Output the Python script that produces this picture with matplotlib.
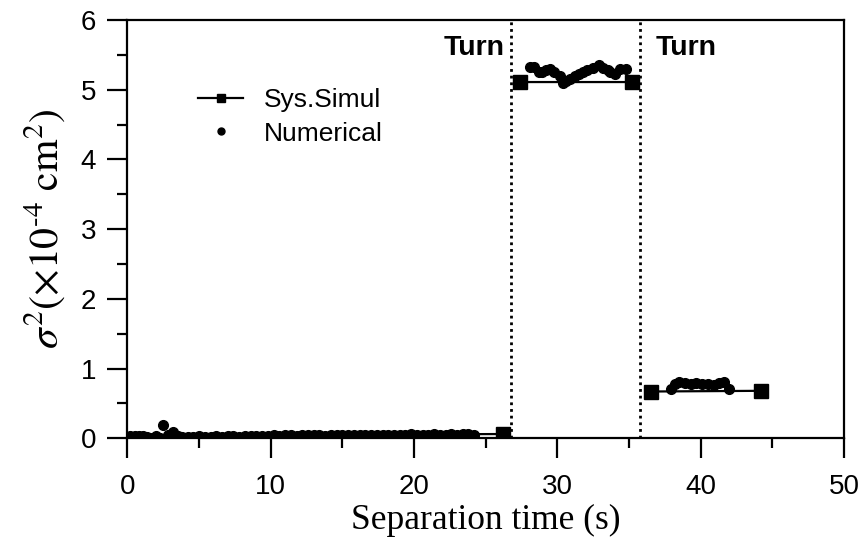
import matplotlib
matplotlib.use("Agg")
import matplotlib.pyplot as plt
import numpy as np
from matplotlib.lines import Line2D

plt.rcParams['font.family'] = ['Liberation Sans', 'DejaVu Sans']
plt.rcParams['mathtext.fontset'] = 'stix'

# Sys.Simul (three separate segments, NaN breaks)
sim_x = [0.0, 26.2, np.nan, 27.4, 35.2, np.nan, 36.5, 44.2]
sim_y = [0.04, 0.06, np.nan, 5.11, 5.11, np.nan, 0.67, 0.68]
sim_marker_idx = [1, 3, 4, 6, 7]

# Numerical
num_x = [0.2, 0.5, 0.8, 1.1, 1.4, 1.7, 2.0, 2.3, 2.5, 2.8, 3.2, 3.5, 3.8,
         4.2, 4.6, 5.0, 5.4, 5.8, 6.2, 6.6, 7.0, 7.4, 7.8, 8.2, 8.6, 9.0,
         9.4, 9.8, 10.2, 10.6, 11.0, 11.4, 11.8, 12.2, 12.6, 13.0, 13.4,
         13.8, 14.2, 14.6, 15.0, 15.4, 15.8, 16.2, 16.6, 17.0, 17.4, 17.8,
         18.2, 18.6, 19.0, 19.4, 19.8, 20.2, 20.6, 21.0, 21.4, 21.8, 22.2,
         22.6, 23.0, 23.4, 23.8, 24.2,
         28.1, 28.4, 28.7, 28.9, 29.2, 29.5, 29.8, 30.2, 30.4, 30.6, 30.9,
         31.2, 31.5, 31.8, 32.1, 32.5, 32.9, 33.2, 33.5, 33.7, 34.0, 34.4,
         34.8,
         37.9, 38.2, 38.5, 38.9, 39.3, 39.7, 40.1, 40.5, 40.9, 41.3, 41.6,
         42.0]
num_y = [0.03, 0.03, 0.03, 0.03, 0.02, 0.00, 0.03, 0.00, 0.19, 0.04, 0.09,
         0.03, 0.02,
         0.02, 0.02, 0.03, 0.02, 0.02, 0.03, 0.02, 0.03, 0.03, 0.02, 0.03,
         0.03, 0.03, 0.03, 0.03, 0.04, 0.03, 0.04, 0.04, 0.03, 0.04, 0.04,
         0.04, 0.04, 0.03, 0.04, 0.04, 0.04, 0.04, 0.05, 0.04, 0.04, 0.05,
         0.05, 0.04, 0.05, 0.05, 0.05, 0.05, 0.06, 0.05, 0.05, 0.05, 0.06,
         0.05, 0.05, 0.06, 0.05, 0.06, 0.06, 0.05,
         5.32, 5.33, 5.26, 5.25, 5.28, 5.30, 5.26, 5.20, 5.09, 5.12, 5.16,
         5.20, 5.23, 5.26, 5.28, 5.31, 5.35, 5.31, 5.28, 5.25, 5.23, 5.30,
         5.30,
         0.70, 0.78, 0.80, 0.79, 0.78, 0.79, 0.78, 0.78, 0.77, 0.79, 0.80,
         0.70]

turn_x = [26.8, 35.8]
turn_label_x = [24.2, 39.0]

fig = plt.figure(figsize=(8.63, 5.41), dpi=100)
ax = fig.add_axes([0.1476, 0.190, 0.8304, 0.773])

ax.plot(sim_x, sim_y, color='black', lw=1.6, marker='s', markersize=9.5,
        markevery=sim_marker_idx, zorder=3)
ax.plot(num_x, num_y, linestyle='none', marker='o', color='black',
        markersize=7, zorder=4)

for tx in turn_x:
    ax.axvline(tx, color='black', linestyle=(0, (1, 1.4)), lw=2.0, zorder=2)
for lx in turn_label_x:
    ax.text(lx, 5.6, 'Turn', ha='center', va='center', fontsize=20.5,
            fontweight='bold')

ax.set_xlim(0, 50)
ax.set_ylim(0, 6)
ax.set_xticks([0, 10, 20, 30, 40, 50])
ax.set_xticks([5, 15, 25, 35, 45], minor=True)
ax.set_yticks([0, 1, 2, 3, 4, 5, 6])
ax.set_yticks([0.5, 1.5, 2.5, 3.5, 4.5, 5.5], minor=True)
ax.tick_params(which='major', direction='out', length=14.5, width=1.6,
               labelsize=20, top=False, right=False)
ax.tick_params(axis='x', which='major', pad=11)
ax.tick_params(axis='y', which='major', pad=8)
ax.tick_params(which='minor', direction='out', length=7.5, width=1.6,
               top=False, right=False)
for s in ax.spines.values():
    s.set_linewidth(1.6)

ax.set_xlabel('Separation time (s)', fontsize=25.5, family='Liberation Serif',
              labelpad=3)
ax.set_ylabel(r'$\sigma^2(\times10^{\text{-}4}\ \mathrm{cm}^2)$', fontsize=30,
              labelpad=9)

h1 = Line2D([], [], color='black', lw=1.6, marker='s', markersize=6)
h2 = Line2D([], [], color='black', linestyle='none', marker='o', markersize=5)
ax.legend([h1, h2], ['Sys.Simul', 'Numerical'], loc='upper left',
          bbox_to_anchor=(0.084, 0.862), frameon=False, fontsize=19,
          handlelength=1.7, handletextpad=0.8, labelspacing=0.35,
          borderaxespad=0)

fig.savefig('out.png', dpi=100)
